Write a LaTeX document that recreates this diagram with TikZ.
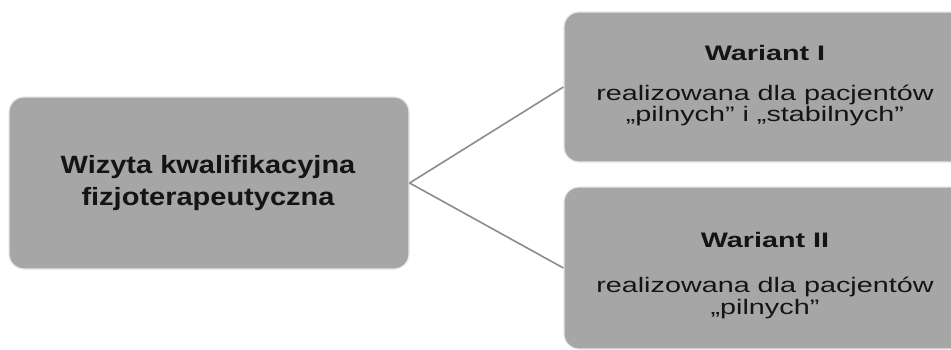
\documentclass[tikz,border=0pt]{standalone}
\usepackage{fontspec}
\setmainfont{Liberation Sans}
\newfontfamily\titlefont[FakeStretch=1.16]{Liberation Sans}
\newfontfamily\varfont[FakeStretch=1.37]{Liberation Sans}
\definecolor{boxfill}{RGB}{166,166,166}
\definecolor{boxedge}{RGB}{232,232,232}
\definecolor{linkcol}{RGB}{140,140,140}
\definecolor{txt}{RGB}{20,20,20}
\tikzset{
  greybox/.style={draw=boxedge, line width=1.2pt, fill=boxfill, rounded corners=15pt,
    rectangle, inner sep=0pt},
  link/.style={draw=linkcol, line width=1.6pt},
  titletxt/.style={font=\titlefont\bfseries\fontsize{25}{32}\selectfont, text=txt, anchor=base, inner sep=0pt},
  headtxt/.style={font=\varfont\bfseries\fontsize{21}{21}\selectfont, text=txt, anchor=base, inner sep=0pt},
  bodytxt/.style={font=\varfont\fontsize{21}{21}\selectfont, text=txt, anchor=base, inner sep=0pt},
}
\begin{document}
\begin{tikzpicture}[x=1pt,y=-1pt]
\clip (0,0) rectangle (951,349);
\fill[white] (0,0) rectangle (951,349);
% boxes
\node[greybox, minimum width=400pt, minimum height=172pt] (L) at (209,183) {};
\node[greybox, minimum width=402pt, minimum height=150pt] (A) at (765,87) {};
\node[greybox, minimum width=402pt, minimum height=162pt] (B) at (765,268) {};
% connectors
\draw[link] (L.east) -- (A.west);
\draw[link] (L.east) -- (B.west);
% texts
\node[titletxt] (l1) at (208,173) {Wizyta kwalifikacyjna};
\node[titletxt] (l2) at (208,205) {fizjoterapeutyczna};
\node[headtxt] (a1) at (765,60) {Wariant I};
\node[bodytxt] (a2) at (765,100) {realizowana dla pacjentów};
\node[bodytxt] (a3) at (765,121) {„pilnych” i „stabilnych”};
\node[headtxt] (b1) at (765,247) {Wariant II};
\node[bodytxt] (b2) at (765,292) {realizowana dla pacjentów};
\node[bodytxt] (b3) at (765,314) {„pilnych”};
\end{tikzpicture}
\end{document}
